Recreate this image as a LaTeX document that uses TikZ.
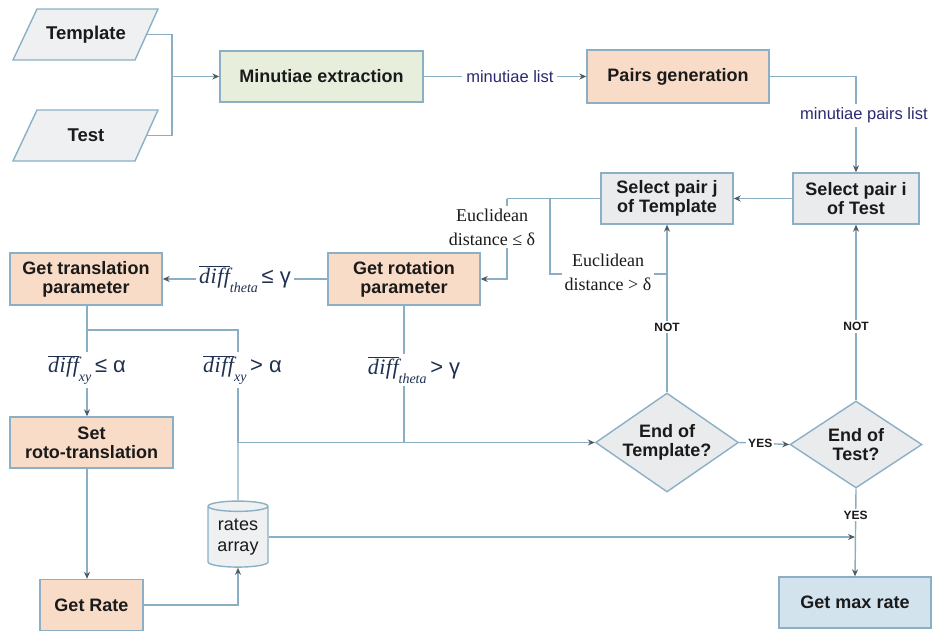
\documentclass[tikz,border=0pt]{standalone}
\usepackage{fontspec}
\setmainfont{Liberation Sans}
\newfontfamily\serifx{Liberation Serif}
\usetikzlibrary{shapes.geometric,arrows.meta}
\definecolor{bd}{HTML}{8BB0C6}
\definecolor{ln}{HTML}{8AAFC5}
\definecolor{tipc}{HTML}{505A60}
\definecolor{peach}{HTML}{F8DCC8}
\definecolor{gfill}{HTML}{E8EEDC}
\definecolor{grayf}{HTML}{E9EBED}
\definecolor{bluef}{HTML}{D2E3EE}
\definecolor{paraf}{HTML}{EFF0F2}
\definecolor{txt}{HTML}{1A1A1A}
\definecolor{navy}{HTML}{2A2A70}
\definecolor{mnavy}{HTML}{1F3050}
\newcommand{\dfl}[2]{$\overline{\hbox{\serifx\itshape d\kern0.5pt i\kern0.5pt f\kern0.5pt f}}$\raisebox{-0.4em}{\serifx\itshape\fontsize{14}{14}\selectfont #1}\,#2}
\begin{document}
\begin{tikzpicture}[x=1pt,y=-1pt,
  every node/.style={text=txt},
  pbox/.style={draw=bd, line width=1.4pt, align=center, inner sep=0pt, font=\bfseries\fontsize{18}{19}\selectfont},
  dia/.style={diamond, draw=bd, fill=grayf, line width=1.4pt, align=center, inner sep=0pt, aspect=1.44, font=\bfseries\fontsize{18}{19}\selectfont},
  para/.style={draw=bd, fill=paraf, line width=1.4pt},
  ptext/.style={font=\bfseries\fontsize{18.5}{20}\selectfont, inner sep=0pt},
  conn/.style={draw=ln, line width=1.4pt},
  arr/.style={conn, -{Stealth[length=7pt,width=6pt,color=tipc]}},
  lab/.style={font=\fontsize{16.5}{18}\selectfont, text=navy, fill=white, inner sep=4pt},
  eu/.style={font=\serifx\fontsize{18}{24}\selectfont, align=center, fill=white, inner sep=3pt},
  mlab/.style={font=\fontsize{22}{24}\selectfont, text=mnavy, fill=white, inner sep=3pt},
  yn/.style={font=\bfseries\fontsize{12}{14}\selectfont, fill=white, inner sep=2pt},
  cyl/.style={cylinder, shape border rotate=90, draw=bd, fill=paraf, line width=1.4pt, aspect=0.25, align=center, inner sep=0pt, font=\fontsize{18}{21}\selectfont},
]
\useasboundingbox (0,0) rectangle (933,632);

% inputs
\draw[para] (13,60) -- (37,9) -- (158,9) -- (135,60) -- cycle;
\node[ptext] (tmpl) at (86,34.5) {Template};
\draw[para] (13,161) -- (37,110) -- (158,110) -- (135,161) -- cycle;
\node[ptext] (test) at (86,135.5) {Test};
\coordinate (tmplR) at (146.5,34.5);
\coordinate (testR) at (146.5,135.5);
\coordinate (jn) at (172,76.5);

% boxes
\node[pbox, fill=gfill, minimum width=203, minimum height=51] (mex) at (321.5,76.5) {Minutiae extraction};
\node[pbox, fill=peach, minimum width=182, minimum height=53] (pg) at (678,76.5) {Pairs generation};
\node[pbox, fill=grayf, minimum width=126, minimum height=51] (spi) at (856,198.5) {Select pair i\\of Test};
\node[pbox, fill=grayf, minimum width=132, minimum height=51] (spj) at (667,198.5) {Select pair j\\of Template};
\node[pbox, fill=peach, minimum width=152, minimum height=52] (grot) at (404,279) {Get rotation\\parameter};
\node[pbox, fill=peach, minimum width=152, minimum height=52] (gtr) at (86,279) {Get translation\\parameter};
\node[pbox, fill=peach, minimum width=163, minimum height=51] (srt) at (91.5,442.5) {Set\\roto-translation};
\node[pbox, fill=peach, minimum width=103, minimum height=51] (grate) at (91.5,605) {Get Rate};
\node[pbox, fill=bluef, minimum width=152, minimum height=51] (gmax) at (855,602.5) {Get max rate};
\node[dia, minimum width=143, minimum height=99] (det) at (667,442.5) {End of\\Template?};
\node[dia, minimum width=132, minimum height=87] (dts) at (856,444.5) {End of\\Test?};
\node[cyl, minimum width=60, minimum height=66] (ra) at (238,537) {rates\\array};

% connectors
\draw[conn] (tmplR) -| (jn) |- (testR);
\draw[arr] (jn) -- (mex.west);
\draw[arr] (mex) -- node[lab, pos=0.53] {minutiae list} (pg);
\draw[arr] (pg.east) -| (spi.north);
\node[lab, anchor=west] (mpl) at (796,115.5) {minutiae pairs list};
\draw[arr] (spi.west) -- (spj.east);

\coordinate (e1) at (507,198.5);
\coordinate (e2) at (550,198.5);
\coordinate (e3) at (667,274);
\draw[conn] (spj.west) -- (e1);
\draw[arr] (e1) |- (grot.east);
\node[eu] (eul) at (492,227) {Euclidean\\distance ≤ δ};
\draw[conn] (e2) |- (e3);
\node[eu] (eug) at (608,272) {Euclidean\\distance > δ};

\draw[arr] (det.north) -- node[yn, pos=0.39] {NOT} (spj.south);
\draw[arr] (dts.north) -- node[yn, pos=0.42] {NOT} (spi.south);
\draw[arr] (det.east) -- node[yn, pos=0.42] {YES} (dts.west);
\draw[arr] (dts.south) -- node[yn, pos=0.3] {YES} (gmax.north);

\draw[arr] (grot.west) -- node[mlab] {\dfl{theta}{≤ γ}} (gtr.east);

\coordinate (t1) at (87,330);
\coordinate (t2) at (238,330);
\coordinate (t3) at (238,442.5);
\draw[conn] (gtr.south -| t1) -- (t1) -- (t2) -- (t3);
\draw[arr] (t1) -- (t1 |- srt.north);
\draw[conn] (grot.south) -- (grot.south |- t3);
\draw[arr] (t3) -- (det.west);
\node[mlab] (lxy1) at (87,370) {\dfl{xy}{≤ α}};
\node[mlab] (lxy2) at (242.5,370) {\dfl{xy}{> α}};
\node[mlab] (lth) at (414,370) {\dfl{theta}{> γ}};

\draw[arr] (srt.south -| t1) -- (grate.north -| t1);
\draw[conn] (ra.north) -- (t3);
\draw[arr] (grate.east) -| (ra.south);
\draw[arr] (ra.east) -- (ra.east -| gmax.north);
\end{tikzpicture}
\end{document}
